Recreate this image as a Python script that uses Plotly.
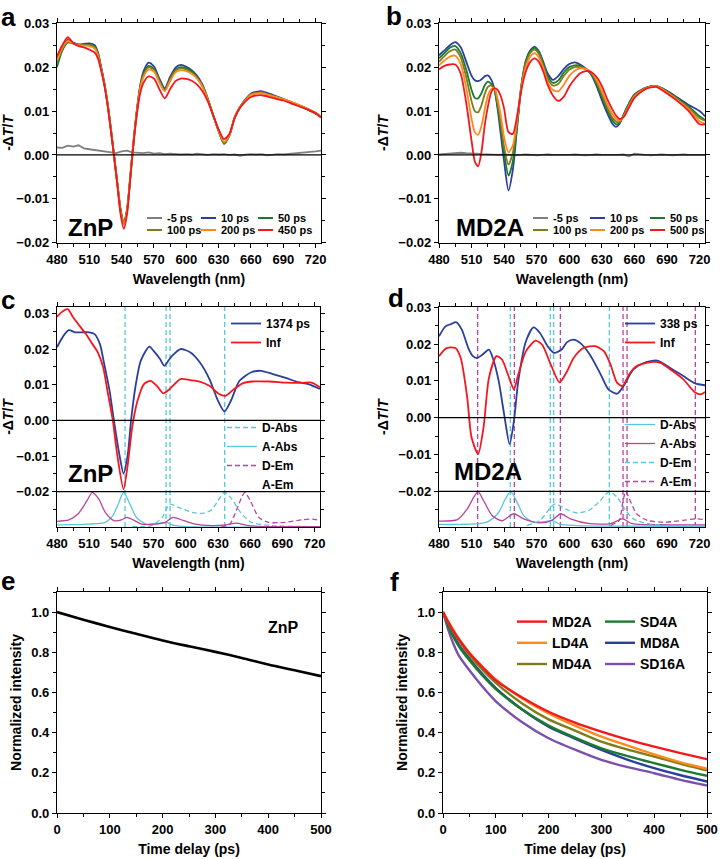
import plotly.graph_objects as go

# ---------------- DATA ----------------
# Panel a (ZnP transient spectra)
WA = [480,485,490,495,500,505,510,515,518,521,524,527,530,533,536,539,542,545,548,551,554,557,560,565,570,575,580,585,590,595,600,605,610,615,620,625,630,635,640,645,650,655,660,670,680,690,700,710,720,725]
A_10 = [0.0222,0.0248,0.0262,0.0256,0.0252,0.0253,0.0254,0.0250,0.0233,0.0200,0.0163,0.0117,0.0060,-0.0002,-0.0064,-0.0125,-0.0155,-0.0125,-0.0050,0.0030,0.0100,0.0155,0.0188,0.0210,0.0201,0.0174,0.0152,0.0178,0.0199,0.0205,0.0201,0.0193,0.0180,0.0160,0.0128,0.0090,0.0055,0.0027,0.0045,0.0087,0.0110,0.0127,0.0140,0.0145,0.0137,0.0128,0.0118,0.0108,0.0096,0.0088]
A_50 = [0.0200,0.0238,0.0256,0.0254,0.0251,0.0251,0.0251,0.0247,0.0231,0.0198,0.0162,0.0116,0.0059,-0.0003,-0.0065,-0.0124,-0.0152,-0.0124,-0.0050,0.0030,0.0098,0.0152,0.0183,0.0203,0.0196,0.0170,0.0148,0.0173,0.0194,0.0200,0.0197,0.0190,0.0177,0.0158,0.0127,0.0090,0.0054,0.0025,0.0044,0.0086,0.0109,0.0126,0.0138,0.0143,0.0135,0.0126,0.0116,0.0106,0.0094,0.0086]
A_100 = [0.0210,0.0242,0.0258,0.0254,0.0250,0.0250,0.0250,0.0245,0.0229,0.0197,0.0161,0.0115,0.0058,-0.0003,-0.0065,-0.0126,-0.0154,-0.0126,-0.0051,0.0029,0.0097,0.0150,0.0180,0.0200,0.0193,0.0168,0.0147,0.0171,0.0192,0.0197,0.0194,0.0187,0.0175,0.0156,0.0126,0.0090,0.0055,0.0027,0.0045,0.0086,0.0109,0.0125,0.0138,0.0142,0.0134,0.0126,0.0117,0.0107,0.0095,0.0087]
A_200 = [0.0215,0.0245,0.0260,0.0254,0.0250,0.0249,0.0248,0.0242,0.0226,0.0195,0.0160,0.0114,0.0057,-0.0004,-0.0066,-0.0129,-0.0158,-0.0128,-0.0052,0.0028,0.0095,0.0147,0.0176,0.0195,0.0190,0.0165,0.0145,0.0168,0.0188,0.0193,0.0191,0.0185,0.0174,0.0155,0.0125,0.0090,0.0056,0.0030,0.0046,0.0086,0.0109,0.0125,0.0137,0.0141,0.0134,0.0127,0.0118,0.0108,0.0096,0.0087]
A_450 = [0.0225,0.0250,0.0268,0.0255,0.0248,0.0245,0.0240,0.0233,0.0220,0.0192,0.0158,0.0112,0.0055,-0.0005,-0.0068,-0.0135,-0.0168,-0.0135,-0.0055,0.0025,0.0090,0.0138,0.0163,0.0179,0.0174,0.0150,0.0129,0.0150,0.0168,0.0174,0.0173,0.0169,0.0160,0.0145,0.0122,0.0090,0.0058,0.0036,0.0048,0.0085,0.0108,0.0122,0.0132,0.0136,0.0130,0.0124,0.0115,0.0106,0.0095,0.0085]
WG = [480,485,490,495,500,505,510,515,520,525,530,535,540,545,550,555,560,565,570,575,580,585,590,595,600,605,610,615,620,625,630,635,640,645,650,655,660,665,670,675,680,685,690,695,700,705,710,715,720,725]
A_M5 = [0.0017,0.0016,0.0021,0.0019,0.0022,0.0015,0.0013,0.0011,0.0009,0.0008,0.0006,0.0004,0.0008,0.0010,0.0006,0.0005,0.0004,0.0006,0.0003,0.0004,0.0002,0.0003,0.0002,0.0001,0.0002,0.0001,0.0003,0.0001,0.0000,0.0002,0.0001,0.0002,0.0000,0.0001,-0.0002,0.0001,0.0002,0.0001,0.0002,-0.0001,0.0000,0.0002,0.0001,0.0002,0.0003,0.0004,0.0005,0.0006,0.0008,0.0010]

# Panel b (MD2A transient spectra)
WB = [480,485,490,495,500,505,510,513,516,519,522,525,528,531,534,537,540,544,548,552,556,560,564,568,572,576,580,585,590,595,600,605,610,615,620,625,630,635,640,643,646,650,655,660,670,680,690,700,710,720,725]
B_10 = [0.0227,0.0238,0.0250,0.0257,0.0245,0.0213,0.0180,0.0170,0.0168,0.0172,0.0179,0.0181,0.0172,0.0150,0.0105,0.0045,-0.0015,-0.0081,-0.0034,0.0064,0.0160,0.0215,0.0238,0.0246,0.0236,0.0212,0.0186,0.0171,0.0180,0.0196,0.0207,0.0211,0.0206,0.0197,0.0184,0.0158,0.0125,0.0095,0.0070,0.0064,0.0070,0.0092,0.0118,0.0138,0.0153,0.0157,0.0146,0.0130,0.0114,0.0100,0.0088]
B_50 = [0.0220,0.0232,0.0244,0.0248,0.0232,0.0195,0.0148,0.0130,0.0129,0.0140,0.0158,0.0167,0.0162,0.0150,0.0110,0.0060,0.0005,-0.0047,-0.0015,0.0070,0.0160,0.0212,0.0236,0.0244,0.0234,0.0208,0.0180,0.0164,0.0170,0.0188,0.0200,0.0204,0.0203,0.0196,0.0186,0.0163,0.0132,0.0102,0.0078,0.0070,0.0072,0.0090,0.0116,0.0136,0.0152,0.0156,0.0145,0.0128,0.0110,0.0088,0.0080]
B_100 = [0.0212,0.0225,0.0236,0.0240,0.0222,0.0178,0.0122,0.0100,0.0097,0.0112,0.0138,0.0155,0.0158,0.0151,0.0118,0.0070,0.0018,-0.0022,0.0005,0.0075,0.0158,0.0208,0.0232,0.0240,0.0230,0.0204,0.0174,0.0158,0.0162,0.0180,0.0194,0.0200,0.0200,0.0196,0.0188,0.0167,0.0138,0.0108,0.0084,0.0076,0.0075,0.0089,0.0114,0.0135,0.0152,0.0157,0.0144,0.0126,0.0107,0.0084,0.0078]
B_200 = [0.0204,0.0215,0.0224,0.0226,0.0207,0.0155,0.0082,0.0052,0.0046,0.0065,0.0102,0.0135,0.0150,0.0152,0.0128,0.0088,0.0040,0.0006,0.0022,0.0082,0.0155,0.0200,0.0224,0.0232,0.0222,0.0198,0.0166,0.0148,0.0145,0.0160,0.0180,0.0192,0.0197,0.0196,0.0189,0.0172,0.0146,0.0116,0.0092,0.0082,0.0078,0.0087,0.0111,0.0133,0.0151,0.0156,0.0142,0.0124,0.0104,0.0077,0.0072]
B_500 = [0.0195,0.0203,0.0206,0.0206,0.0185,0.0120,0.0032,-0.0015,-0.0026,0.0005,0.0065,0.0110,0.0142,0.0152,0.0148,0.0133,0.0105,0.0052,0.0048,0.0090,0.0150,0.0190,0.0212,0.0220,0.0212,0.0190,0.0160,0.0135,0.0123,0.0133,0.0156,0.0173,0.0186,0.0191,0.0189,0.0178,0.0157,0.0127,0.0102,0.0090,0.0082,0.0086,0.0108,0.0130,0.0150,0.0155,0.0140,0.0122,0.0100,0.0070,0.0070]
B_M5 = [0.0001,0.0002,0.0003,0.0004,0.0005,0.0004,0.0004,0.0003,0.0002,0.0001,0.0001,0.0000,0.0001,0.0000,-0.0001,0.0000,0.0001,0.0000,-0.0001,0.0000,0.0001,0.0000,0.0000,-0.0001,0.0000,0.0001,0.0000,-0.0001,0.0000,0.0001,0.0000,0.0000,-0.0001,0.0000,0.0001,-0.0003,0.0003,0.0001,0.0000,-0.0001,0.0000,0.0001,0.0000,-0.0001,0.0000,0.0001,0.0000,0.0000,0.0001,0.0000]

# Panel c (ZnP species spectra + normalized steady-state spectra)
WC_1374 = [480,486,491,497,503,510,515,520,524,529,533,538,542,546,549,553,558,566,570,576,580,586,595,604,613,622,630,636,642,650,661,670,681,693,705,714,725]
C_1374 = [0.0205,0.0237,0.0253,0.0247,0.0247,0.0247,0.0242,0.0214,0.0158,0.0083,0.0000,-0.0094,-0.0149,-0.0094,0.0000,0.0093,0.0167,0.0207,0.0195,0.0172,0.0153,0.0177,0.0200,0.0191,0.0163,0.0116,0.0055,0.0025,0.0055,0.0111,0.0135,0.0139,0.0130,0.0119,0.0107,0.0102,0.0088]
WC_INF = [480,484,490,495,501,507,513,518,523,527,532,536,542,546,550,555,561,567,573,579,585,595,604,613,622,631,637,645,653,662,678,693,708,717,725]
C_INF = [0.0290,0.0303,0.0312,0.0289,0.0265,0.0242,0.0214,0.0191,0.0149,0.0083,0.0000,-0.0094,-0.0193,-0.0122,-0.0020,0.0055,0.0102,0.0111,0.0097,0.0076,0.0088,0.0116,0.0113,0.0109,0.0097,0.0074,0.0069,0.0088,0.0104,0.0109,0.0109,0.0106,0.0105,0.0106,0.0093]
WC_DABS = [550,568,578,585,593,606,615,624,630,636,643,651,661,680,725]
C_DABS = [-0.0298,-0.0295,-0.0272,-0.0235,-0.0244,-0.0258,-0.0261,-0.0251,-0.0225,-0.0202,-0.0221,-0.0258,-0.0286,-0.0295,-0.0298]
WC_AABS = [480,509,525,532,537,542,548,554,563,574,582,587,602,725]
C_AABS = [-0.0293,-0.0291,-0.0286,-0.0267,-0.0235,-0.0202,-0.0235,-0.0272,-0.0291,-0.0289,-0.0286,-0.0293,-0.0298,-0.0299]
WC_DEM = [633,641,647,652,655,660,668,677,692,708,718,725]
C_DEM = [-0.0298,-0.0291,-0.0253,-0.0216,-0.0202,-0.0225,-0.0272,-0.0286,-0.0286,-0.0279,-0.0277,-0.0281]
WC_AEM = [480,491,500,508,513,519,525,533,540,545,551,559,571,581,588,598,609,624,637,647,658,680,725]
C_AEM = [-0.0283,-0.0279,-0.0261,-0.0225,-0.0202,-0.0221,-0.0258,-0.0281,-0.0279,-0.0272,-0.0279,-0.0291,-0.0291,-0.0286,-0.0272,-0.0281,-0.0291,-0.0295,-0.0293,-0.0288,-0.0295,-0.0298,-0.0298]
C_CYAN_LINES = [543.4, 581.6, 585.3, 636.2]

# Panel d (MD2A species spectra + normalized steady-state spectra)
WD_338 = [480,486,491,496,501,507,511,515,520,526,530,535,540,545,549,553,560,567,573,580,586,593,598,604,610,619,629,636,644,650,659,669,681,693,705,716,725]
D_338 = [0.0221,0.0248,0.0254,0.0259,0.0239,0.0189,0.0168,0.0162,0.0171,0.0185,0.0158,0.0099,0.0009,-0.0072,-0.0009,0.0099,0.0207,0.0245,0.0230,0.0194,0.0176,0.0185,0.0205,0.0212,0.0203,0.0171,0.0117,0.0077,0.0065,0.0086,0.0131,0.0149,0.0155,0.0135,0.0113,0.0093,0.0088]
WD_INF = [480,487,495,500,506,510,516,521,526,533,538,544,549,553,560,569,575,583,591,598,604,613,624,632,638,644,649,655,662,675,684,693,705,716,721,725]
D_INF = [0.0167,0.0189,0.0189,0.0162,0.0054,-0.0054,-0.0099,-0.0027,0.0108,0.0167,0.0158,0.0113,0.0077,0.0117,0.0180,0.0209,0.0198,0.0144,0.0096,0.0126,0.0162,0.0189,0.0194,0.0180,0.0144,0.0095,0.0086,0.0117,0.0140,0.0151,0.0149,0.0131,0.0104,0.0068,0.0063,0.0070]
WD_DABS = [480,524,535,541,546,552,558,567,580,584,592,607,725]
D_DABS = [-0.0290,-0.0284,-0.0257,-0.0221,-0.0201,-0.0230,-0.0266,-0.0284,-0.0281,-0.0279,-0.0290,-0.0293,-0.0295]
WD_AABS = [480,497,506,512,516,521,529,538,549,558,573,584,592,601,619,638,649,658,693,725]
D_AABS = [-0.0281,-0.0277,-0.0248,-0.0216,-0.0201,-0.0225,-0.0266,-0.0280,-0.0261,-0.0275,-0.0286,-0.0279,-0.0261,-0.0275,-0.0288,-0.0288,-0.0275,-0.0288,-0.0291,-0.0291]
WD_DEM = [561,573,583,587,598,607,618,627,637,644,652,659,672,693,725]
D_DEM = [-0.0293,-0.0279,-0.0243,-0.0234,-0.0250,-0.0259,-0.0252,-0.0230,-0.0201,-0.0216,-0.0252,-0.0275,-0.0288,-0.0293,-0.0293]
WD_AEM = [638,646,649,652,656,662,672,687,705,716,725]
D_AEM = [-0.0293,-0.0279,-0.0234,-0.0201,-0.0225,-0.0261,-0.0279,-0.0284,-0.0279,-0.0275,-0.0277]
D_CYAN_LINES = [545.7, 582.5, 585.6, 636.9]
D_MAG_LINES = [515.6, 549.4, 591.8, 649.5, 653.2, 716.1]

# Panel e (ZnP decay)
TE = [0,50,100,150,200,250,300,350,400,450,500]
E_ZNP = [1.0,0.962,0.926,0.892,0.859,0.830,0.802,0.772,0.739,0.710,0.681]

# Panel f (decays)
TF = [0,5,10,20,30,50,75,100,150,200,250,300,350,400,450,500]
F_MD2A = [1.0,0.975,0.950,0.905,0.865,0.795,0.725,0.660,0.575,0.504,0.450,0.405,0.365,0.330,0.298,0.268]
F_LD4A = [1.0,0.975,0.952,0.908,0.868,0.798,0.728,0.665,0.570,0.496,0.435,0.380,0.335,0.292,0.252,0.220]
F_MD4A = [1.0,0.972,0.946,0.900,0.860,0.785,0.712,0.648,0.545,0.466,0.410,0.355,0.315,0.281,0.245,0.212]
F_SD4A = [1.0,0.965,0.930,0.875,0.830,0.760,0.683,0.617,0.515,0.435,0.375,0.322,0.283,0.248,0.215,0.185]
F_MD8A = [1.0,0.968,0.937,0.883,0.838,0.768,0.690,0.622,0.515,0.430,0.370,0.314,0.265,0.223,0.188,0.157]
F_SD16A = [1.0,0.955,0.912,0.840,0.783,0.710,0.628,0.556,0.452,0.372,0.315,0.264,0.228,0.198,0.165,0.137]

ZERO_LINES_AB = [0.0]
ZERO_LINES_CD = [0.0, -0.02]

# ---------------- STYLE ----------------
W, H = 720, 859
FONT = "Arial, Liberation Sans, sans-serif"
GRAY = "#7f7f7f"; BLUE = "#2a3f9d"; GREEN = "#1b7a2e"; OLIVE = "#7d7d1c"
ORANGE = "#ff8a1c"; RED = "#f5171c"; PURPLE = "#7a4fae"
CYAN = "#58c6dc"; MAG = "#b9439f"
DASH = "5px,3px"

def dx(l, r):
    return [l / W, r / W]

def dy(t, b):
    return [1 - b / H, 1 - t / H]

fig = go.Figure()

def add(x, y, color, name, ax, legend="legend", width=1.8, dash="solid", showlegend=True, shape="spline"):
    fig.add_trace(go.Scatter(
        x=x, y=y, mode="lines", name=name,
        line=dict(color=color, width=width, dash=dash, shape=shape, smoothing=0.7),
        xaxis="x" + ax, yaxis="y" + ax, legend=legend, showlegend=showlegend))

# a / b series: (x, y, color, label, line shape)
SERIES_A = [(WG, A_M5, GRAY, "-5 ps", "linear"), (WA, A_10, BLUE, "10 ps", "spline"),
            (WA, A_50, GREEN, "50 ps", "spline"), (WA, A_100, OLIVE, "100 ps", "spline"),
            (WA, A_200, ORANGE, "200 ps", "spline"), (WA, A_450, RED, "450 ps", "spline")]
SERIES_B = [(WG, B_M5, GRAY, "-5 ps", "linear"), (WB, B_10, BLUE, "10 ps", "spline"),
            (WB, B_50, GREEN, "50 ps", "spline"), (WB, B_100, OLIVE, "100 ps", "spline"),
            (WB, B_200, ORANGE, "200 ps", "spline"), (WB, B_500, RED, "500 ps", "spline")]
for x, y, c, n, s in SERIES_A:
    add(x, y, c, n, "", showlegend=False, shape=s)
for x, y, c, n, s in SERIES_B:
    add(x, y, c, n, "2", showlegend=False, shape=s)
# c
add(WC_DABS, C_DABS, CYAN, "D-Abs", "3", "legend6", width=1.3, dash=DASH)
add(WC_AABS, C_AABS, CYAN, "A-Abs", "3", "legend6", width=1.3)
add(WC_DEM, C_DEM, MAG, "D-Em", "3", "legend6", width=1.3, dash=DASH)
add(WC_AEM, C_AEM, MAG, "A-Em", "3", "legend6", width=1.3, showlegend=False)
fig.add_trace(go.Scatter(x=[None], y=[None], mode="lines", name="A-Em",
                         line=dict(color="rgba(0,0,0,0)"), xaxis="x3", yaxis="y3", legend="legend6"))
add(WC_1374, C_1374, BLUE, "1374 ps", "3", "legend5")
add(WC_INF, C_INF, RED, "Inf", "3", "legend5")
# d
add(WD_DABS, D_DABS, CYAN, "D-Abs", "4", "legend8", width=1.3)
add(WD_AABS, D_AABS, MAG, "A-Abs", "4", "legend8", width=1.3)
add(WD_DEM, D_DEM, CYAN, "D-Em", "4", "legend8", width=1.3, dash=DASH)
add(WD_AEM, D_AEM, MAG, "A-Em", "4", "legend8", width=1.3, dash=DASH)
add(WD_338, D_338, BLUE, "338 ps", "4", "legend7")
add(WD_INF, D_INF, RED, "Inf", "4", "legend7")
# e
add(TE, E_ZNP, "black", "ZnP", "5", width=2.6, showlegend=False)
# f
add(TF, F_SD16A, PURPLE, "SD16A", "6", "legend10", width=2.4)
add(TF, F_MD8A, BLUE, "MD8A", "6", "legend10", width=2.4)
add(TF, F_SD4A, GREEN, "SD4A", "6", "legend10", width=2.4)
add(TF, F_MD4A, OLIVE, "MD4A", "6", "legend9", width=2.4)
add(TF, F_LD4A, ORANGE, "LD4A", "6", "legend9", width=2.4)
add(TF, F_MD2A, RED, "MD2A", "6", "legend9", width=2.4)

tickfont = dict(family=FONT, size=13, color="black", weight="bold")
titlefont = dict(family=FONT, size=14, color="black", weight="bold")

def axis(domain, anchor, rng, dtick, minor_dtick, title, standoff, tick0=0, tickformat=None):
    d = dict(domain=domain, anchor=anchor, range=rng, tick0=tick0, dtick=dtick,
             showline=True, linecolor="black", linewidth=1.3, mirror="allticks",
             ticks="outside", ticklen=4, tickwidth=1.2, tickcolor="black",
             showgrid=False, zeroline=False, tickfont=tickfont, automargin=False,
             title=dict(text=title, font=titlefont, standoff=standoff),
             minor=dict(dtick=minor_dtick, tick0=tick0, ticks="outside", ticklen=2.5,
                        tickwidth=1, tickcolor="black", showgrid=False))
    if tickformat:
        d["tickformat"] = tickformat
    return d

WL = "Wavelength (nm)"
YT = "-Δ<i>T</i>/<i>T</i>"
TD = "Time delay (ps)"
NI = "Normalized intensity"

boxes = {
    "": (57, 321, 23, 243),
    "2": (439, 705, 23, 243),
    "3": (57, 320, 307, 527),
    "4": (439, 705, 307, 527),
    "5": (57, 321, 592, 813),
    "6": (443, 707, 592, 813),
}
layout = dict(width=W, height=H, margin=dict(l=0, r=0, t=0, b=0), autosize=False,
              paper_bgcolor="white", plot_bgcolor="white", font=dict(family=FONT, color="black"))

yr = {"": [-0.02005, 0.03005], "2": [-0.02005, 0.03005], "3": [-0.0299, 0.0318], "4": [-0.0297, 0.03005]}
for k in ["", "2", "3", "4"]:
    l, r, t, b = boxes[k]
    layout["xaxis" + k] = axis(dx(l, r), "y" + k, [480, 725], 30, 15, WL, 8, tick0=480)
    layout["yaxis" + k] = axis(dy(t, b), "x" + k, yr[k], 0.01, 0.005, YT, 6, tickformat=".2f")
for k in ["5", "6"]:
    l, r, t, b = boxes[k]
    layout["xaxis" + k] = axis(dx(l, r), "y" + k, [0, 500], 100, 50, TD, 8)
    layout["yaxis" + k] = axis(dy(t, b), "x" + k, [0, 1.1], 0.2, 0.1, NI, 6, tickformat=".1f")

def leg(x, y, size, orientation="v", xanchor="left", yanchor="top"):
    return dict(x=x / W, y=1 - y / H, xanchor=xanchor, yanchor=yanchor, orientation=orientation,
                bgcolor="rgba(0,0,0,0)", borderwidth=0,
                font=dict(family=FONT, size=size, color="black", weight="bold"),
                itemwidth=30, tracegroupgap=0)

layout["legend"] = dict(visible=False)
layout["legend5"] = leg(226, 309, 12)
layout["legend6"] = leg(222, 413, 12)
layout["legend7"] = leg(620, 309, 12)
layout["legend8"] = leg(620, 410, 12)
layout["legend9"] = leg(512, 606, 14)
layout["legend10"] = leg(600, 606, 14)
fig.update_layout(**layout)
fig.update_layout(legend10=dict(traceorder="reversed"), legend9=dict(traceorder="reversed"))

shapes = []
for k in ["", "2"]:
    for v in ZERO_LINES_AB:
        shapes.append(dict(type="line", xref="x" + k + " domain", x0=0, x1=1, yref="y" + k, y0=v, y1=v,
                           line=dict(color="black", width=1.3)))
for k in ["3", "4"]:
    for v in ZERO_LINES_CD:
        shapes.append(dict(type="line", xref="x" + k + " domain", x0=0, x1=1, yref="y" + k, y0=v, y1=v,
                           line=dict(color="black", width=1.3)))
for v in C_CYAN_LINES:
    shapes.append(dict(type="line", xref="x3", x0=v, x1=v, yref="y3 domain", y0=0, y1=1,
                       line=dict(color=CYAN, width=1.3, dash=DASH), layer="below"))
for v in D_CYAN_LINES:
    shapes.append(dict(type="line", xref="x4", x0=v, x1=v, yref="y4 domain", y0=0, y1=1,
                       line=dict(color=CYAN, width=1.3, dash=DASH), layer="below"))
for v in D_MAG_LINES:
    shapes.append(dict(type="line", xref="x4", x0=v, x1=v, yref="y4 domain", y0=0, y1=1,
                       line=dict(color=MAG, width=1.3, dash=DASH), layer="below"))

def note(text, x, y, size, xanchor="left"):
    return dict(text=text, x=x / W, y=1 - y / H, xref="paper", yref="paper", showarrow=False,
                xanchor=xanchor, yanchor="middle",
                font=dict(family=FONT, size=size, color="black", weight="bold"))

anns = [
    note("a", -1, 17, 26), note("b", 384, 16, 26), note("c", -1, 300, 26),
    note("d", 386, 298, 26), note("e", -1, 581, 26), note("f", 388, 582, 26),
    note("ZnP", 66, 227, 24), note("MD2A", 454, 227, 24),
    note("ZnP", 66, 474, 24), note("MD2A", 452, 471, 24),
    note("ZnP", 266, 627, 16),
]

# compact 3x2 keys for panels a and b (same series, same styles as the plotted curves)
KEY_ROWS = [218, 230]
KEY_COLS_A = [147, 201, 258]
KEY_COLS_B = [533, 590, 650]
KEY_LEN = 15
for series, cols in ((SERIES_A, KEY_COLS_A), (SERIES_B, KEY_COLS_B)):
    for i, (_, _, c, n, _) in enumerate(series):
        ky = KEY_ROWS[i // 3]
        kx = cols[i % 3]
        shapes.append(dict(type="line", xref="paper", yref="paper",
                           x0=kx / W, x1=(kx + KEY_LEN) / W, y0=1 - ky / H, y1=1 - ky / H,
                           line=dict(color=c, width=2)))
        anns.append(note(n, kx + KEY_LEN + 3, ky, 11))

fig.update_layout(shapes=shapes, annotations=anns)

fig.write_html("out.html", config={"displayModeBar": False},
               post_script="document.body.style.margin='0px';")
